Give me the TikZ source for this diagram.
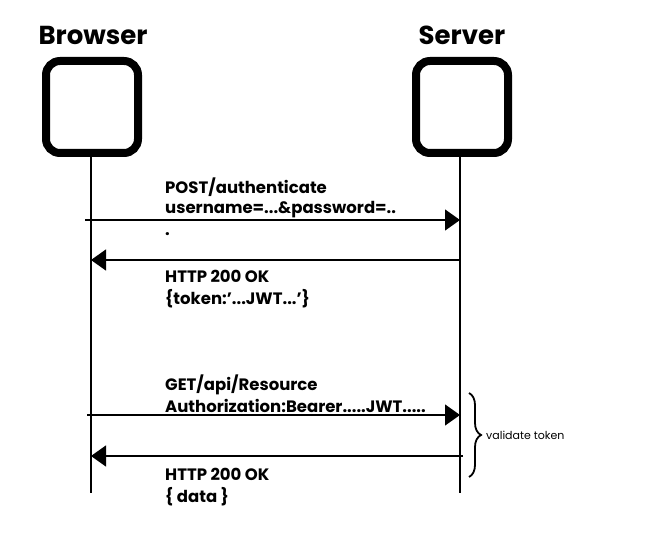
\documentclass[tikz,border=0pt]{standalone}
\usepackage{fontspec}
\setmainfont{Poppins}
\usetikzlibrary{arrows.meta,positioning,decorations.pathreplacing}
\tikzstyle{actor}=[draw=black,line width=8pt,rounded corners=14pt,minimum width=92pt,minimum height=92pt,inner sep=0pt]
\tikzstyle{title}=[font=\fontsize{26}{30}\selectfont\bfseries]
\tikzstyle{msg}=[draw=black,line width=1.3pt,-{Triangle[length=15pt,width=21pt]}]
\tikzstyle{lbl}=[font=\fontsize{16.5}{20}\selectfont\bfseries,anchor=base west,inner sep=0pt]
\tikzstyle{life}=[draw=black,line width=1.3pt]

\begin{document}
\begin{tikzpicture}[x=1pt,y=-1pt]
\useasboundingbox (0,0) rectangle (664,537);
\node[actor] (browser) at (92,107) {};
\node[actor] (server) at (462,107) {};
\node[title] (btitle) at (93,35) {Browser};
\node[title] (stitle) at (462,35) {Server};
\coordinate (bend) at (91,493);
\coordinate (send) at (460,493);
\draw[life] (browser.south -| bend) -- (bend);
\draw[life] (server.south -| send) -- (send);
\coordinate (post) at (85,220);
\coordinate (ok1) at (460,260);
\coordinate (get) at (87,415);
\coordinate (ok2) at (463,456);
\draw[msg] (post) -- (post -| send);
\draw[msg] (ok1) -- (ok1 -| bend);
\draw[msg] (get) -- (get -| send);
\draw[msg] (ok2) -- (ok2 -| bend);
\node[lbl] (R1) at (165,194) {POST/authenticate};
\node[lbl] (R2) at (165,214) {username=...\&password=..};
\node[lbl] (R3) at (165,236) {.};
\node[lbl] (R4) at (165,283) {HTTP 200 OK};
\node[lbl] (R5) at (165,305) {\{token:\symbol{"27}...JWT...\symbol{"27}\}};
\node[lbl] (R6) at (165,390) {GET/api/Resource};
\node[lbl] (R7) at (165,412) {Authorization:Bearer.....JWT.....};
\node[lbl] (R8) at (165,480) {HTTP 200 OK};
\node[lbl] (R9) at (165,502) {\{ data \}};
\coordinate (vtop) at (469,393);
\coordinate (vbot) at (469,477);
\draw[line width=1.8pt,decorate,decoration={brace,amplitude=12pt}] (vtop) -- (vbot);
\node[lbl,font=\fontsize{11}{13}\selectfont,anchor=west] (valid) at (486,435) {validate token};
\end{tikzpicture}
\end{document}
